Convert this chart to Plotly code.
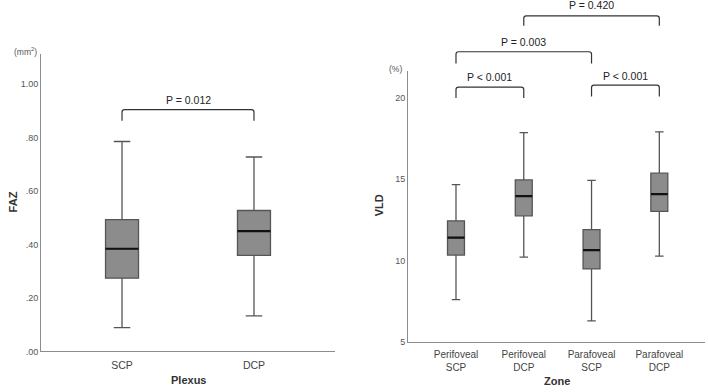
import plotly.graph_objects as go

W, H = 708, 392

# ---------------- data ----------------
plexus = ["SCP", "DCP"]
faz_lower = [0.089, 0.133]
faz_q1 = [0.274, 0.359]
faz_median = [0.384, 0.450]
faz_q3 = [0.493, 0.527]
faz_upper = [0.785, 0.727]
faz_tickvals = [0.0, 0.2, 0.4, 0.6, 0.8, 1.0]
faz_ticktext = [".00", ".20", ".40", ".60", ".80", "1.00"]

zones = ["Perifoveal<br>SCP", "Perifoveal<br>DCP", "Parafoveal<br>SCP", "Parafoveal<br>DCP"]
vld_lower = [7.58, 10.21, 6.28, 10.27]
vld_q1 = [10.33, 12.75, 9.48, 13.03]
vld_median = [11.41, 13.97, 10.64, 14.09]
vld_q3 = [12.44, 14.96, 11.90, 15.38]
vld_upper = [14.67, 17.88, 14.94, 17.92]
vld_tickvals = [5, 10, 15, 20]
vld_ticktext = ["5", "10", "15", "20"]

faz_pairs = [(0, 1)]
faz_pvalues = ["P = 0.012"]
vld_pairs = [(0, 1), (2, 3), (0, 2), (1, 3)]
vld_pvalues = ["P < 0.001", "P < 0.001", "P = 0.003", "P = 0.420"]

# ---------------- layout constants ----------------
FAZ_RANGE = [0, 1.111]
VLD_RANGE = [5, 21.67]
FAZ_XRANGE = [-0.614, 1.614]
VLD_XRANGE = [-0.708, 3.674]
FAZ_XDOM = [41 / W, 335 / W]
VLD_XDOM = [408 / W, 705 / W]
FAZ_YDOM = [1 - 356 / H, 1 - 55 / H]
VLD_YDOM = [1 - 346 / H, 1 - 72 / H]
# bracket (top, leg bottom, text) heights in axis units
faz_br = [(0.904, 0.863, 0.942)]
vld_br = [(20.68, 20.01, 21.30), (20.81, 20.10, 21.38),
          (22.86, 22.13, 23.45), (25.07, 24.46, 25.74)]

BOX_W = 0.25
FILL = "#8c8c8c"
EDGE = "#555555"
FONT = "Liberation Sans, Arial, sans-serif"

fig = go.Figure()


def add_boxes(xa, ya, cats, lo, q1, med, q3, hi, width):
    xs = list(range(len(cats)))
    fig.add_trace(go.Box(
        x=xs, q1=q1, median=med, q3=q3, lowerfence=lo, upperfence=hi,
        width=width, whiskerwidth=0.5, fillcolor=FILL,
        line=dict(color=EDGE, width=1.3), boxpoints=False,
        xaxis=xa, yaxis=ya, showlegend=False, hoverinfo="skip"))
    mx, my = [], []
    for i, m in zip(xs, med):
        mx += [i - width / 2, i + width / 2, None]
        my += [m, m, None]
    fig.add_trace(go.Scatter(x=mx, y=my, mode="lines",
                             line=dict(color="#111111", width=2.2),
                             xaxis=xa, yaxis=ya, showlegend=False, hoverinfo="skip"))


add_boxes("x", "y", plexus, faz_lower, faz_q1, faz_median, faz_q3, faz_upper, BOX_W)
add_boxes("x2", "y2", zones, vld_lower, vld_q1, vld_median, vld_q3, vld_upper, BOX_W)


def to_paper(v, rng, dom):
    return dom[0] + (v - rng[0]) / (rng[1] - rng[0]) * (dom[1] - dom[0])


def add_brackets(xref, xrng, xdom, rng, dom, pairs, texts, heights):
    # small rounded corners (~2.5 px)
    dx = 2.5 * (xrng[1] - xrng[0]) / ((xdom[1] - xdom[0]) * W)
    dy = 2.5 / H
    for (a, b), t, (top, leg, ty) in zip(pairs, texts, heights):
        yt, yb, ytx = to_paper(top, rng, dom), to_paper(leg, rng, dom), to_paper(ty, rng, dom)
        path = (f"M {a},{yb} L {a},{yt - dy} Q {a},{yt} {a + dx},{yt} "
                f"L {b - dx},{yt} Q {b},{yt} {b},{yt - dy} L {b},{yb}")
        fig.add_shape(type="path", xref=xref, yref="paper", path=path,
                      line=dict(color="#333333", width=1.2))
        fig.add_annotation(x=(a + b) / 2, y=ytx, xref=xref, yref="paper",
                           text=t, showarrow=False, yanchor="middle",
                           font=dict(family=FONT, size=10.5, color="#222222"))


add_brackets("x", FAZ_XRANGE, FAZ_XDOM, FAZ_RANGE, FAZ_YDOM, faz_pairs, faz_pvalues, faz_br)
add_brackets("x2", VLD_XRANGE, VLD_XDOM, VLD_RANGE, VLD_YDOM, vld_pairs, vld_pvalues, vld_br)

axis_common = dict(showline=True, linecolor="#8c8c8c", linewidth=1, showgrid=False,
                   zeroline=False, ticks="", fixedrange=True)

fig.update_layout(
    width=W, height=H, margin=dict(l=0, r=0, t=0, b=0),
    paper_bgcolor="white", plot_bgcolor="white",
    font=dict(family=FONT, color="#444444"),
    xaxis=dict(domain=FAZ_XDOM, range=FAZ_XRANGE, anchor="y",
               tickvals=list(range(len(plexus))), ticktext=plexus, ticklabelstandoff=4,
               tickfont=dict(size=10.5, color="#444444"), **axis_common),
    yaxis=dict(domain=FAZ_YDOM, range=FAZ_RANGE, anchor="x",
               tickvals=faz_tickvals, ticktext=faz_ticktext,
               tickfont=dict(size=9, color="#555555"), **axis_common),
    xaxis2=dict(domain=VLD_XDOM, range=VLD_XRANGE, anchor="y2",
                tickvals=list(range(len(zones))), ticktext=zones, ticklabelstandoff=3,
                tickfont=dict(size=10, color="#444444"), **axis_common),
    yaxis2=dict(domain=VLD_YDOM, range=VLD_RANGE, anchor="x2",
                tickvals=vld_tickvals, ticktext=vld_ticktext,
                tickfont=dict(size=9, color="#555555"), **axis_common),
)

labels = [
    ("FAZ", 13, 205, -90, 11, True),
    ("Plexus", 188, 385, 0, 11, True),
    ("VLD", 379, 208, -90, 11, True),
    ("Zone", 556.5, 386, 0, 11, True),
    ("(mm<sup>2</sup>)", 25, 52, 0, 8.5, False),
    ("(%)", 395, 70, 0, 8.5, False),
]
for txt, px, py, ang, sz, bold in labels:
    fig.add_annotation(x=px / W, y=1 - py / H, xref="paper", yref="paper",
                       text=f"<b>{txt}</b>" if bold else txt, showarrow=False,
                       textangle=ang, xanchor="center", yanchor="middle",
                       font=dict(family=FONT, size=sz, color="#333333" if bold else "#555555"))

fig.write_html("out.html", config={"displayModeBar": False},
               post_script="document.body.style.margin='0px';document.body.style.overflow='hidden';")
